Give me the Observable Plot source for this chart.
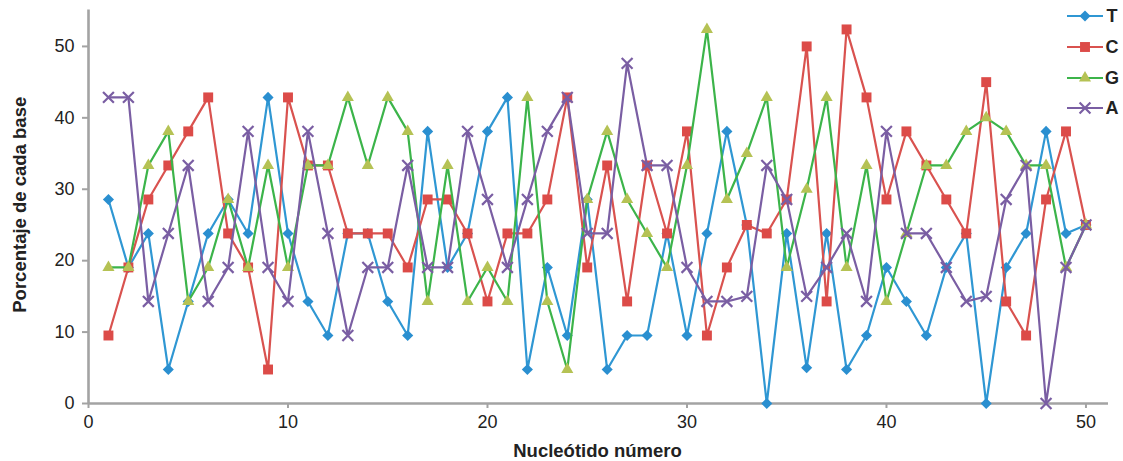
<!DOCTYPE html>
<html><head><meta charset="utf-8">
<script src="https://cdn.jsdelivr.net/npm/d3@7"></script>
<script src="https://cdn.jsdelivr.net/npm/@observablehq/plot@0.6"></script>
<style>
body{margin:0;background:#fff;font-family:"Liberation Sans",Arial,sans-serif;}
#wrap{position:relative;width:1123px;height:461px;overflow:hidden;}
</style></head><body><div id="wrap"></div>
<script>
// Nucleotide positions
const nucleotido = [1,2,3,4,5,6,7,8,9,10,11,12,13,14,15,16,17,18,19,20,21,22,23,24,25,26,27,28,29,30,31,32,33,34,35,36,37,38,39,40,41,42,43,44,45,46,47,48,49,50];
// Percentage of each base
const T = [28.57,19.05,23.81,4.76,14.29,23.81,28.57,23.81,42.86,23.81,14.29,9.52,23.81,23.81,14.29,9.52,38.10,19.05,23.81,38.10,42.86,4.76,19.05,9.52,28.57,4.76,9.52,9.52,23.81,9.52,23.81,38.10,25,0,23.81,5,23.81,4.76,9.52,19.05,14.29,9.52,19.05,23.81,0,19.05,23.81,38.10,23.81,25];
const C = [9.52,19.05,28.57,33.33,38.10,42.86,23.81,19.05,4.76,42.86,33.33,33.33,23.81,23.81,23.81,19.05,28.57,28.57,23.81,14.29,23.81,23.81,28.57,42.86,19.05,33.33,14.29,33.33,23.81,38.10,9.52,19.05,25,23.81,28.57,50,14.29,52.38,42.86,28.57,38.10,33.33,28.57,23.81,45,14.29,9.52,28.57,38.10,25];
const G = [19.05,19.05,33.33,38.10,14.29,19.05,28.57,19.05,33.33,19.05,33.33,33.33,42.86,33.33,42.86,38.10,14.29,33.33,14.29,19.05,14.29,42.86,14.29,4.76,28.57,38.10,28.57,23.81,19.05,33.33,52.38,28.57,35,42.86,19.05,30,42.86,19.05,33.33,14.29,23.81,33.33,33.33,38.10,40,38.10,33.33,33.33,19.05,25];
const A = [42.86,42.86,14.29,23.81,33.33,14.29,19.05,38.10,19.05,14.29,38.10,23.81,9.52,19.05,19.05,33.33,19.05,19.05,38.10,28.57,19.05,28.57,38.10,42.86,23.81,23.81,47.62,33.33,33.33,19.05,14.29,14.29,15,33.33,28.57,15,19.05,23.81,14.29,38.10,23.81,23.81,19.05,14.29,15,28.57,33.33,0,19.05,25];

const seriesNames = ["T","C","G","A"];
const seriesValues = [T, C, G, A];
const xTicks = [0,10,20,30,40,50];
const yTicks = [0,10,20,30,40,50];
const xLabel = "Nucleótido número";
const yLabel = "Porcentaje de cada base";

const lineColors = ["#2f97d3","#d9524f","#3cb44a","#7a5ea3"];
const markerColors = ["#2a8fd0","#dc4b48","#b5c254","#7a5ea3"];
const symbols = ["diamond2","square","triangle","times"];
const d3symbols = [d3.symbolDiamond2, d3.symbolSquare, d3.symbolTriangle, d3.symbolTimes];
const radii = [5, 5.6, 4.5, 5];

const axisGray = "#a3a3a3";
const font = "Liberation Sans, Arial, Helvetica, sans-serif";

const seriesMarks = [];
seriesNames.forEach((name, i) => {
  const rows = nucleotido.map((n, j) => ({n, v: seriesValues[i][j], s: name}));
  seriesMarks.push(Plot.line(rows, {x: "n", y: "v", stroke: lineColors[i], strokeWidth: 2.2}));
  if (symbols[i] === "times") {
    seriesMarks.push(Plot.dot(rows, {x: "n", y: "v", symbol: symbols[i], r: radii[i], stroke: markerColors[i], strokeWidth: 2.2, fill: "none"}));
  } else {
    seriesMarks.push(Plot.dot(rows, {x: "n", y: "v", symbol: symbols[i], r: radii[i], fill: markerColors[i], stroke: "none"}));
  }
});

const chart = Plot.plot({
  width: 1123,
  height: 461,
  marginLeft: 88,
  marginRight: 15,
  marginTop: 9.5,
  marginBottom: 58,
  style: {fontFamily: font, fontSize: "18px", color: "#222", background: "#fff"},
  x: {domain: [0, 51.13]},
  y: {domain: [0, 55.1]},
  marks: [
    Plot.axisX({ticks: xTicks, tickSize: 5, tickPadding: 7, stroke: axisGray, strokeWidth: 2, fill: "#222", fontSize: 18, label: null}),
    Plot.axisY({ticks: yTicks, tickSize: 6, tickPadding: 8, stroke: axisGray, strokeWidth: 2, fill: "#222", fontSize: 18, label: null}),
    Plot.ruleY([0], {stroke: axisGray, strokeWidth: 2.6}),
    Plot.ruleX([0], {stroke: axisGray, strokeWidth: 2.6}),
    ...seriesMarks,
    Plot.text([xLabel], {frameAnchor: "bottom", textAnchor: "middle", lineAnchor: "middle", dx: -1, dy: 48, fontWeight: "bold", fontSize: 18.5, fill: "#222"}),
    Plot.text([yLabel], {frameAnchor: "left", textAnchor: "middle", lineAnchor: "middle", rotate: -90, dx: -68, dy: -2, fontWeight: "bold", fontSize: 18.5, fill: "#222"})
  ]
});

document.getElementById("wrap").appendChild(chart);

// Legend (top right)
const svg = d3.select(chart);
const lg = svg.append("g").attr("font-family", font);
const rowY = [16, 47, 78, 108];
seriesNames.forEach((name, i) => {
  const g = lg.append("g").attr("transform", `translate(0,${rowY[i]})`);
  g.append("line").attr("x1", 1067).attr("x2", 1103).attr("y1", 0).attr("y2", 0)
    .attr("stroke", lineColors[i]).attr("stroke-width", 2.2);
  const sym = d3.symbol(d3symbols[i], Math.PI * radii[i] * radii[i]);
  const p = g.append("path").attr("d", sym()).attr("transform", "translate(1085,0)");
  if (symbols[i] === "times") p.attr("fill", "none").attr("stroke", markerColors[i]).attr("stroke-width", 2.2);
  else p.attr("fill", markerColors[i]);
  g.append("text").attr("x", 1112).attr("y", 0).attr("dy", "0.35em")
    .attr("font-size", 18).attr("font-weight", "bold").attr("fill", "#222").text(name);
});
</script></body></html>
